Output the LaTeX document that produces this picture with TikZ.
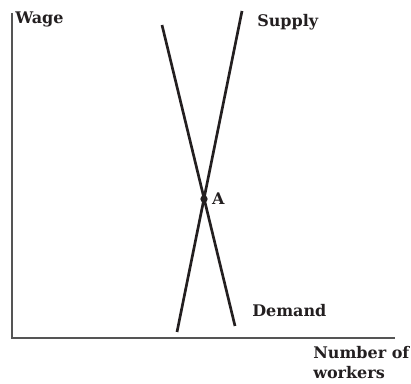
\documentclass[tikz,border=0pt]{standalone}
\usepackage{fontspec}
\setmainfont{DejaVu Serif}
\usetikzlibrary{positioning}
\definecolor{ink}{HTML}{231F20}
\definecolor{axis}{HTML}{555555}

\begin{document}
\begin{tikzpicture}[
  x=0.75pt,y=-0.75pt,
  font=\bfseries\fontsize{12}{15}\selectfont,
  ax/.style={draw=axis,line width=1.1pt},
  curve/.style={draw=ink,line width=2pt},
  lbl/.style={text=ink,anchor=base west,inner sep=0pt,align=left},
  dot/.style={circle,fill=ink,inner sep=0pt,minimum size=5.5pt},
]
\useasboundingbox (0,0) rectangle (411,384);

%------------------------------------------------------------------ axes ---
\coordinate (top) at (12,13);
\coordinate (origin) at (12,338);
\coordinate (right) at (395,338);
\draw[ax] (top) -- (origin) -- (right);
\node[lbl] (wage) at (15,24) {Wage};
\node[lbl] (number) at (313,379) {Number of\\workers};

%---------------------------------------------------------------- curves ---
\coordinate (s0) at (177,332);
\coordinate (s1) at (242,11);
\coordinate (d0) at (162,25);
\coordinate (d1) at (235,326);
\draw[curve] (s0) -- (s1);
\draw[curve] (d0) -- (d1);
\node[lbl] (supply) at (257,27) {Supply};
\node[lbl] (demand) at (252,317) {Demand};

%----------------------------------------------------------- equilibrium ---
\node[dot] (A) at (204,199) {};
\node[lbl,right=3pt of A.east,anchor=west] (alab) {A};

\end{tikzpicture}
\end{document}
